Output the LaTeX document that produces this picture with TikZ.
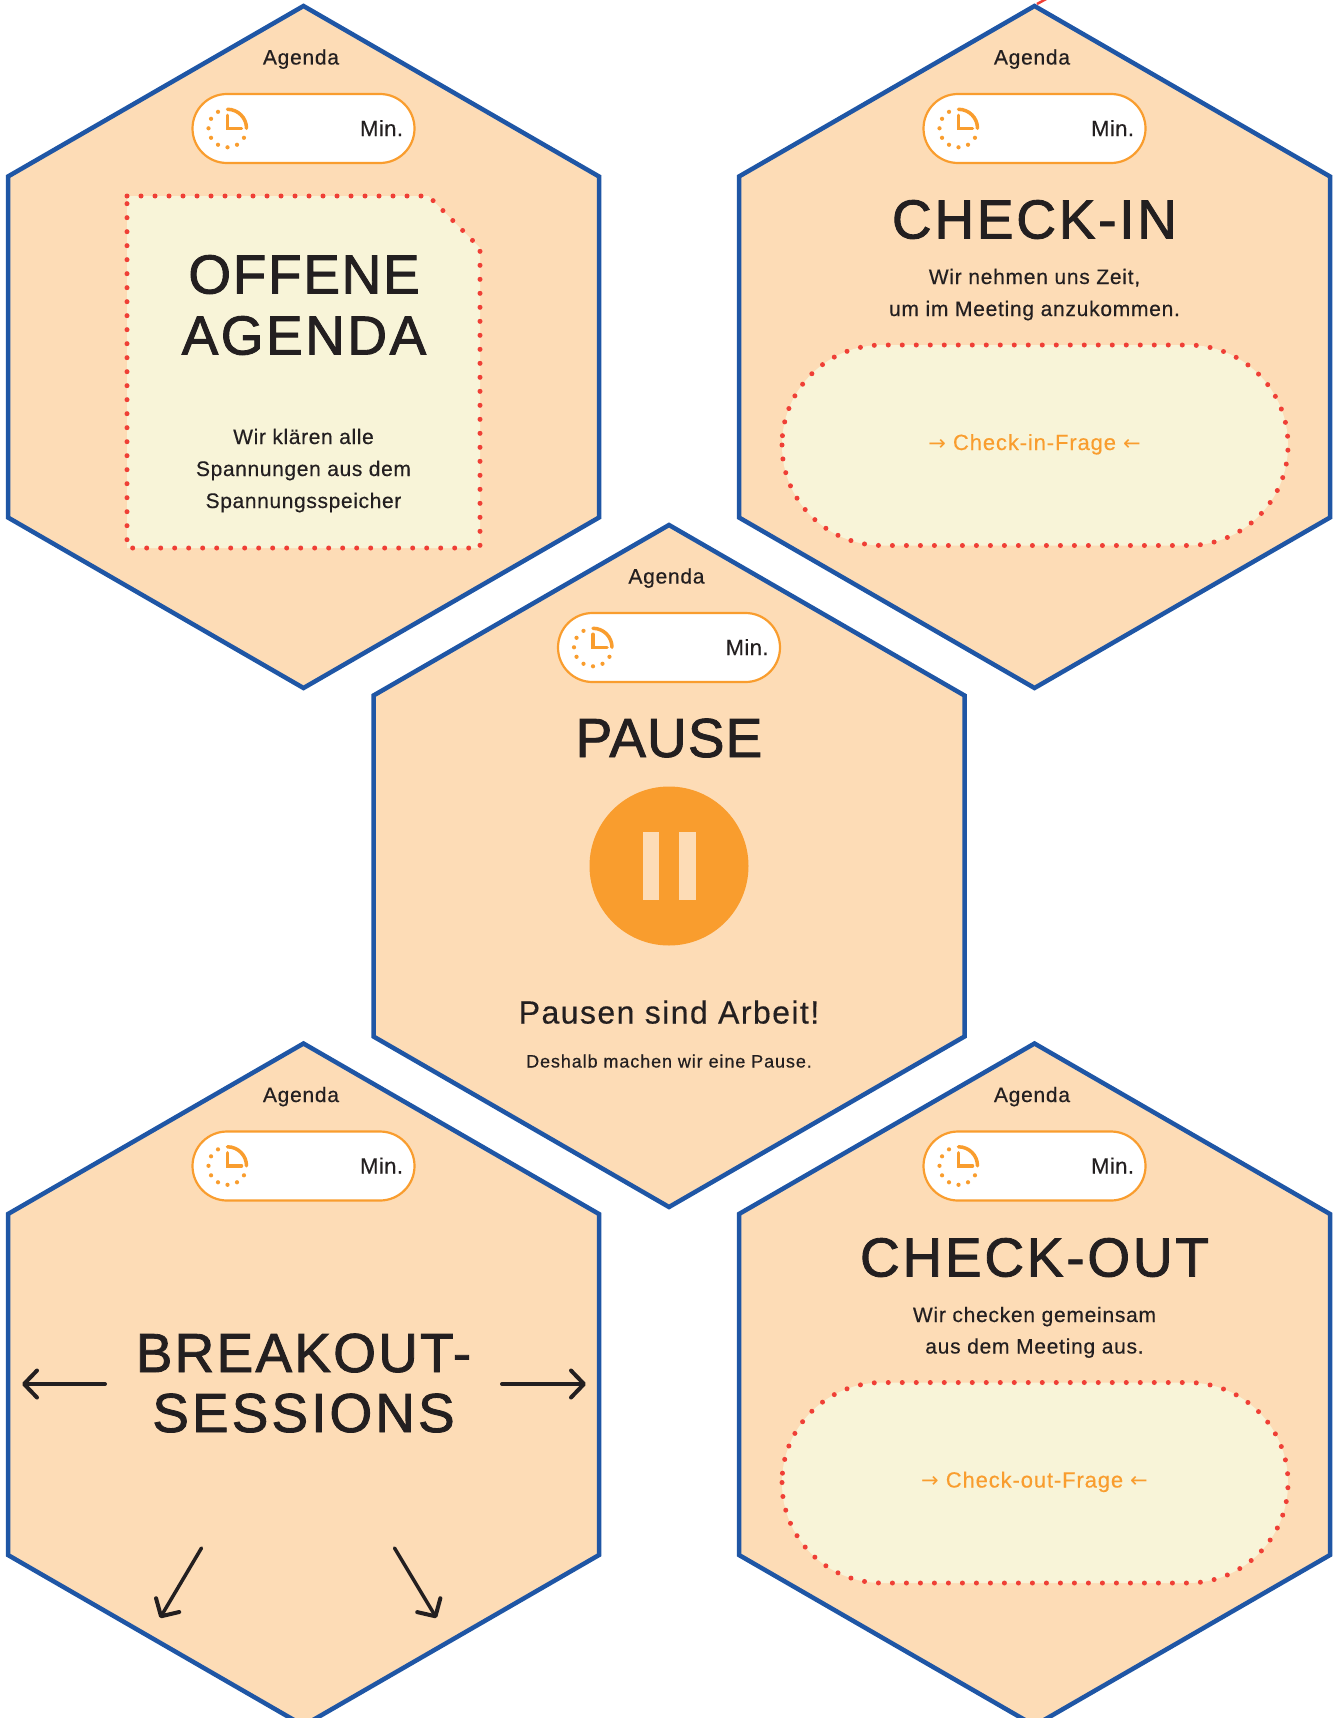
\documentclass[tikz,border=0pt]{standalone}
\usepackage{fontspec}
\setmainfont{Liberation Sans}
\newfontfamily\arrowfont{DejaVu Sans}
\usetikzlibrary{arrows.meta}
\definecolor{hexfill}{HTML}{FDDCB6}
\definecolor{hexblue}{HTML}{1F56A5}
\definecolor{pillorange}{HTML}{F99D2E}
\definecolor{dotred}{HTML}{EF3F36}
\definecolor{creamy}{HTML}{F8F4D8}
\definecolor{inkdark}{HTML}{231F20}
\newcommand{\ft}[3]{\fontsize{#1}{#1}\selectfont\addfontfeature{LetterSpace=#2,FakeBold=0.4}#3}
\newcommand{\ttl}[3]{\fontsize{#1}{#1}\selectfont\addfontfeature{LetterSpace=#2,FakeBold=1.6}#3}
\newcommand{\arr}[2]{{\arrowfont\fontsize{#1}{#1}\selectfont #2}}
\tikzset{
  hexshape/.style={draw=hexblue,fill=hexfill,line width=4.5pt,line join=miter},
  txt/.style={anchor=base,inner sep=0pt,outer sep=0pt,text=inkdark},
  qtxt/.style={anchor=base,inner sep=0pt,outer sep=0pt,text=pillorange},
  dotedge/.style={draw=dotred,fill=creamy,line width=5pt,line cap=round,dash pattern=on 0pt off 14pt},
  barrow/.style={draw=inkdark,line width=4pt,line cap=round,-{Straight Barb[length=13pt,width=27pt,line width=4pt,round]}}
}
% hexagon with Agenda and time pill; #1 name, #2 cx, #3 cy
\newcommand{\hexa}[3]{%
 \begin{scope}[shift={(#2,#3)}]
  \draw[hexshape] (0,-341) -- (295.5,-170.5) -- (295.5,170.5) -- (0,341) -- (-295.5,170.5) -- (-295.5,-170.5) -- cycle;
  \node[txt] (#1agenda) at (-2.5,-282.5) {\ft{21}{3.5}{Agenda}};
  \draw[pillorange,fill=white,line width=2.2pt,rounded corners=34.5pt] (-111,-253) rectangle (111,-184);
  \node[txt,anchor=base east] (#1min) at (99.5,-211) {\ft{22}{2}{Min.}};
  \begin{scope}[shift={(-76,-218.7)}]
   \draw[pillorange,line width=3.5pt,line cap=round] (0,-19) .. controls (10.5,-19) and (19,-10.5) .. (19,0);
   \draw[pillorange,line width=3.5pt,line cap=round,line join=miter] (0,-13) -- (0,0) -- (14,0);
   \foreach \a in {30,60,...,240} \fill[pillorange] (\a:19) circle (2.1);
  \end{scope}
 \end{scope}}
\begin{document}
\begin{tikzpicture}[x=1pt,y=-1pt]
\useasboundingbox (0,0) rectangle (1336,1718);
\begin{scope}
\clip (0,0) rectangle (1336,1718);
\draw[dotred,line width=2.5pt] (1037,4) -- (1048,-2);
% hexagon 1
\hexa{a}{303.5}{347}
\draw[dotedge] (127,196) -- (428.5,196) -- (480,248) -- (480,548) -- (127,548) -- cycle;
\node[txt] (atitleone) at (304,293.5) {\ttl{55}{3}{OFFENE}};
\node[txt] (atitletwo) at (304,354.5) {\ttl{55}{4.5}{AGENDA}};
\node[txt] (aone) at (303.5,444) {\ft{21}{3}{Wir klären alle}};
\node[txt] (atwo) at (303.5,476) {\ft{21}{3}{Spannungen aus dem}};
\node[txt] (athree) at (303.5,508) {\ft{21}{3}{Spannungsspeicher}};
% hexagon 2
\hexa{b}{1034.5}{347}
\node[txt] (btitle) at (1034.5,238.5) {\ttl{55}{5}{CHECK-IN}};
\node[txt] (bone) at (1034.5,284) {\ft{21}{3.5}{Wir nehmen uns Zeit,}};
\node[txt] (btwo) at (1034.5,316) {\ft{21}{3.5}{um im Meeting anzukommen.}};
\draw[dotedge,rounded corners=100pt] (782,345) rectangle (1288,545.5);
\node[qtxt] (bq) at (1034.5,450) {\arr{21}{→}\hspace{7pt}\ft{22}{4}{Check-in-Frage}\hspace{7pt}\arr{21}{←}};
% hexagon 3
\hexa{c}{669}{866}
\node[txt] (ctitle) at (669,757) {\ttl{55}{2}{PAUSE}};
\fill[pillorange] (669,866) circle (79.5);
\fill[hexfill] (642.5,832) rectangle (659,900);
\fill[hexfill] (679,832) rectangle (696,900);
\node[txt] (cone) at (669,1023.5) {\ft{32}{4.5}{Pausen sind Arbeit!}};
\node[txt] (ctwo) at (669,1067.5) {\ft{18}{5}{Deshalb machen wir eine Pause.}};
% hexagon 4
\hexa{d}{303.5}{1384.5}
\node[txt] (dtitleone) at (303.5,1372) {\ttl{55}{4}{BREAKOUT-}};
\node[txt] (dtitletwo) at (303.5,1432) {\ttl{55}{5.5}{SESSIONS}};
\coordinate (lfrom) at (105,1384);
\coordinate (lto) at (22,1384);
\coordinate (rfrom) at (502,1384);
\coordinate (rto) at (586,1384);
\coordinate (blfrom) at (201.5,1548);
\coordinate (blto) at (160,1618);
\coordinate (brfrom) at (394.5,1548);
\coordinate (brto) at (436.5,1618);
\draw[barrow] (lfrom) -- (lto);
\draw[barrow] (rfrom) -- (rto);
\draw[barrow,line width=3.5pt] (blfrom) -- (blto);
\draw[barrow,line width=3.5pt] (brfrom) -- (brto);
% hexagon 5
\hexa{e}{1034.5}{1384.5}
\node[txt] (etitle) at (1034.5,1276.5) {\ttl{55}{5}{CHECK-OUT}};
\node[txt] (eone) at (1034.5,1322) {\ft{21}{3.5}{Wir checken gemeinsam}};
\node[txt] (etwo) at (1034.5,1353.5) {\ft{21}{3.5}{aus dem Meeting aus.}};
\draw[dotedge,rounded corners=100pt] (782,1382.5) rectangle (1288,1583);
\node[qtxt] (eq) at (1034.5,1487.5) {\arr{21}{→}\hspace{7pt}\ft{22}{4}{Check-out-Frage}\hspace{7pt}\arr{21}{←}};
\end{scope}
\end{tikzpicture}
\end{document}
